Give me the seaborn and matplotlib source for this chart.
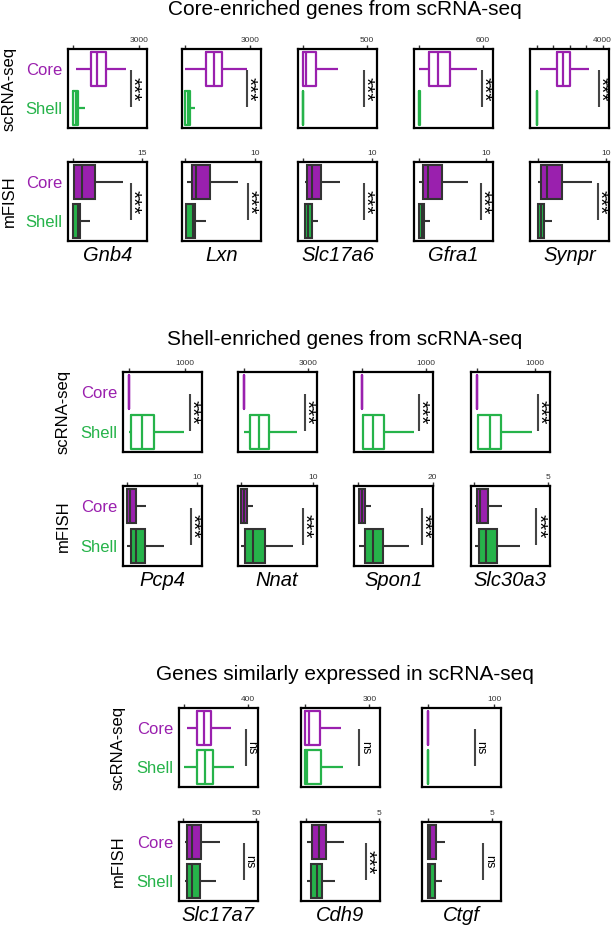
# boxplots Core vs Shell (scRNA-seq / mFISH) recriados com seaborn

import pandas as pd
import seaborn as sns
import matplotlib.pyplot as plt

# ---- valores: [min, Q1, mediana, Q3, max] por caixa ----
regions = ['Core', 'Shell']

sec1_title = 'Core-enriched genes from scRNA-seq'
sec1_genes = ['Gnb4', 'Lxn', 'Slc17a6', 'Gfra1', 'Synpr']
sec1_rna_max = [3000, 3000, 500, 600, 4000]
sec1_fish_max = [15, 10, 10, 10, 10]
sec1_rna_core = [[138, 830, 1090, 1490, 2400], [0, 940, 1310, 1700, 2850],
                 [0, 0, 26, 104, 273], [0, 95, 174, 290, 543],
                 [210, 1240, 1615, 2030, 3170]]
sec1_rna_shell = [[0, 15, 140, 245, 550], [0, 0, 110, 220, 455],
                  [0, 0, 0, 0, 3], [0, 0, 0, 2, 5], [0, 0, 0, 0, 5]]
sec1_fish_core = [[0, 0.29, 1.98, 4.74, 10.9], [0.2, 0.92, 1.55, 3.57, 7.57],
                  [0.33, 0.66, 1.3, 2.64, 5.38], [0, 0.51, 1.35, 3.36, 7.35],
                  [0, 0.51, 1.41, 3.51, 7.9]]
sec1_fish_shell = [[0, 0, 1.1, 1.6, 3.8], [0, 0.1, 1.07, 1.4, 2.95],
                   [0.33, 0.33, 0.81, 1.3, 2.25], [0, 0, 0.36, 0.75, 1.6],
                   [0, 0, 0.51, 1.0, 2.16]]
sec1_sig_rna = ['***'] * 5
sec1_sig_fish = ['***'] * 5

sec2_title = 'Shell-enriched genes from scRNA-seq'
sec2_genes = ['Pcp4', 'Nnat', 'Spon1', 'Slc30a3']
sec2_rna_max = [1000, 3000, 1000, 1000]
sec2_fish_max = [10, 10, 20, 5]
sec2_rna_core = [[0, 0, 0, 3, 8], [0, 0, 0, 10, 25], [0, 0, 0, 3, 8], [0, 0, 0, 3, 8]]
sec2_rna_shell = [[0, 47, 235, 446, 980], [0, 284, 697, 1184, 2500],
                  [0, 26, 171, 352, 813], [0, 18, 223, 410, 954]]
sec2_fish_core = [[0, 0, 0.4, 1.24, 2.6], [0, 0, 0.4, 0.83, 1.65],
                  [0.2, 0.2, 1.0, 1.8, 3.3], [0.07, 0.23, 0.4, 0.97, 1.91]]
sec2_fish_shell = [[0, 0.47, 1.19, 2.49, 5.2], [0, 0.55, 1.65, 3.3, 7.3],
                   [0.1, 1.8, 3.9, 6.6, 13.7], [0.07, 0.38, 0.8, 1.57, 3.14]]
sec2_sig_rna = ['***'] * 4
sec2_sig_fish = ['***'] * 4

sec3_title = 'Genes similarly expressed in scRNA-seq'
sec3_genes = ['Slc17a7', 'Cdh9', 'Ctgf']
sec3_rna_max = [400, 300, 100]
sec3_fish_max = [50, 5, 5]
sec3_rna_core = [[17, 83, 124, 166, 290], [0, 0, 20, 70, 167], [0, 0, 0, 0, 1]]
sec3_rna_shell = [[0, 83, 132, 178, 311], [0, 0, 11, 73, 179], [0, 0, 0, 0, 1]]
sec3_fish_core = [[1.6, 2.7, 6.1, 12.3, 25], [0.05, 0.39, 0.91, 1.34, 2.6],
                  [0, 0, 0.2, 0.62, 1.33]]
sec3_fish_shell = [[1.6, 2.7, 6.0, 11.8, 22.7], [0.05, 0.32, 0.73, 1.07, 2.0],
                   [0, 0, 0.2, 0.56, 1.15]]
sec3_sig_rna = ['ns', 'ns', 'ns']
sec3_sig_fish = ['ns', '***', 'ns']

# ---- cores e layout (em pixels da figura 611x927) ----
PURPLE = '#9A20AE'
GREEN = '#26B34A'
DARK = '#333333'
palette = {'Core': PURPLE, 'Shell': GREEN}

W, H = 611, 927

sections = [
    dict(title=sec1_title, title_y=15, genes=sec1_genes,
         rna_max=sec1_rna_max, fish_max=sec1_fish_max,
         rna=(sec1_rna_core, sec1_rna_shell), fish=(sec1_fish_core, sec1_fish_shell),
         sig_rna=sec1_sig_rna, sig_fish=sec1_sig_fish,
         lefts=[68, 182, 298, 414, 530], rna_top=49, fish_top=162, h=79,
         rna_lims=[(-0.077, 1.123), (-0.052, 1.167), (-0.073, 1.16), (-0.084, 1.16), (-0.105, 1.095)],
         fish_lims=[(-0.069, 1.073), (-0.048, 1.08), (-0.068, 1.07), (-0.08, 1.11), (-0.11, 1.045)],
         rna_sx=[0.795, 0.82, 0.835, 0.857, 0.875],
         fish_sx=[0.795, 0.83, 0.835, 0.85, 0.866]),
    dict(title=sec2_title, title_y=345, genes=sec2_genes,
         rna_max=sec2_rna_max, fish_max=sec2_fish_max,
         rna=(sec2_rna_core, sec2_rna_shell), fish=(sec2_fish_core, sec2_fish_shell),
         sig_rna=sec2_sig_rna, sig_fish=sec2_sig_fish,
         lefts=[123, 237.5, 354, 470.5], rna_top=372, fish_top=486, h=80,
         rna_lims=[(-0.10, 1.30), (-0.106, 1.137), (-0.12, 1.11), (-0.116, 1.26)],
         fish_lims=[(-0.063, 1.07), (-0.055, 1.054), (-0.059, 1.004), (-0.044, 1.019)],
         rna_sx=[0.85, 0.85, 0.82, 0.85],
         fish_sx=[0.857, 0.83, 0.86, 0.835]),
    dict(title=sec3_title, title_y=680, genes=sec3_genes,
         rna_max=sec3_rna_max, fish_max=sec3_fish_max,
         rna=(sec3_rna_core, sec3_rna_shell), fish=(sec3_fish_core, sec3_fish_shell),
         sig_rna=sec3_sig_rna, sig_fish=sec3_sig_fish,
         lefts=[178.5, 301, 421.7], rna_top=708, fish_top=822, h=79,
         rna_lims=[(-0.089, 1.146), (-0.062, 1.166), (-0.089, 1.10)],
         fish_lims=[(-0.059, 1.018), (-0.068, 1.01), (-0.092, 1.14)],
         rna_sx=[0.85, 0.74, 0.67],
         fish_sx=[0.83, 0.82, 0.78]),
]

sns.set_style('white')
plt.rcParams['font.family'] = ['Liberation Sans', 'DejaVu Sans']
plt.rcParams['text.color'] = 'black'

fig = plt.figure(figsize=(W / 100, H / 100), dpi=100)


def px_axes(left, top, width, height):
    return fig.add_axes([left / W, 1 - (top + height) / H, width / W, height / H])


def long_df(core, shell):
    vals = [{'region': 'Core', 'value': v} for v in core]
    vals += [{'region': 'Shell', 'value': v} for v in shell]
    return pd.DataFrame(vals)


def draw_panel(ax, df, filled, vmax, lims, sig, sx, first):
    kw = dict(data=df, x='value', y='region', hue='region', order=regions,
              hue_order=regions, palette=palette, whis=(0, 100), showfliers=False,
              showcaps=False, width=0.85, legend=False, ax=ax, orient='h',
              saturation=1)
    if filled:
        sns.boxplot(**kw, fill=True, linecolor=DARK, linewidth=1.5)
    else:
        sns.boxplot(**kw, fill=False, linewidth=1.6)
    ax.set_xlim(lims[0] * vmax, lims[1] * vmax)
    ax.set_ylim(1.5, -0.5)
    ax.set_xlabel('')
    ax.set_ylabel('')

    # eixo x no topo, rótulo só no máximo
    ticks = [0, 1000, 2000, 3000, 4000] if vmax == 4000 and not filled else [0, vmax]
    ax.xaxis.tick_top()
    ax.set_xticks(ticks)
    ax.set_xticklabels([''] * (len(ticks) - 1) + [str(vmax)])
    ax.tick_params(axis='x', top=True, bottom=False, direction='out', length=3,
                   width=1, color=DARK, labelsize=6, pad=0.5, labelcolor=DARK)
    ax.tick_params(axis='y', left=False, length=0, pad=4, labelsize=12)
    if first:
        for lab in ax.get_yticklabels():
            lab.set_color(palette[lab.get_text()])
    else:
        ax.set_yticklabels([])
    for s in ax.spines.values():
        s.set_linewidth(1.6)
        s.set_color('black')

    # barra de significância
    ax.plot([sx, sx], [0.26, 0.73], transform=ax.transAxes, color='#444444',
            lw=1.5, solid_capstyle='butt')
    if sig == '***':
        fs, dx = 15, -3.0
    else:
        fs, dx = 9, 1.8
    ax.annotate(sig, xy=(sx, 0.495), xycoords='axes fraction', xytext=(dx, 0),
                textcoords='offset points', rotation=-90, rotation_mode='anchor',
                ha='center', va='baseline', fontsize=fs, color='black')


for sec in sections:
    fig.text(345 / W, 1 - sec['title_y'] / H, sec['title'], ha='center',
             va='baseline', fontsize=15)
    h = sec['h']
    for i, gene in enumerate(sec['genes']):
        left = sec['lefts'][i]
        ax1 = px_axes(left, sec['rna_top'], 79, h)
        draw_panel(ax1, long_df(sec['rna'][0][i], sec['rna'][1][i]), False,
                   sec['rna_max'][i], sec['rna_lims'][i], sec['sig_rna'][i],
                   sec['rna_sx'][i], i == 0)
        ax2 = px_axes(left, sec['fish_top'], 79, h)
        draw_panel(ax2, long_df(sec['fish'][0][i], sec['fish'][1][i]), True,
                   sec['fish_max'][i], sec['fish_lims'][i], sec['sig_fish'][i],
                   sec['fish_sx'][i], i == 0)
        fig.text((left + 39.5) / W, 1 - (sec['fish_top'] + h + 20) / H, gene,
                 style='italic', ha='center', va='baseline', fontsize=14.5)
    # rótulos das linhas
    lx = sec['lefts'][0] - 60
    fig.text(max(lx, 9) / W, 1 - (sec['rna_top'] + h / 2) / H, 'scRNA-seq',
             rotation=90, ha='center', va='center', fontsize=12)
    fig.text(max(lx, 9) / W, 1 - (sec['fish_top'] + h / 2) / H, 'mFISH',
             rotation=90, ha='center', va='center', fontsize=12)

plt.savefig('out.png', dpi=100)
